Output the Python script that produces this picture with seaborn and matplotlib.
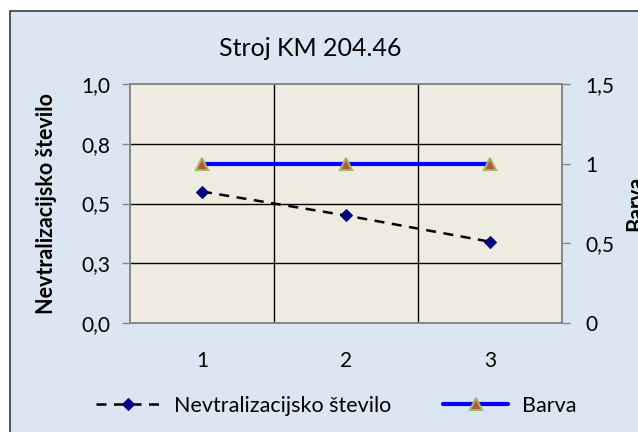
import matplotlib
matplotlib.use("Agg")
import matplotlib.pyplot as plt
import matplotlib.patches as patches
import seaborn as sns
import pandas as pd

# Data
samples = [1, 2, 3]
nevtralizacijsko = [0.55, 0.45, 0.34]
barva = [1, 1, 1]
left_ticks = [0, 0.25, 0.5, 0.75, 1.0]
left_labels = ["0,0", "0,3", "0,5", "0,8", "1,0"]
right_ticks = [0, 0.5, 1, 1.5]
right_labels = ["0", "0,5", "1", "1,5"]

df = pd.DataFrame({"Vzorec": samples, "Nevtralizacijsko število": nevtralizacijsko, "Barva": barva})

sns.set_style("white")
plt.rcParams["font.family"] = ["Lato", "DejaVu Sans"]
plt.rcParams["text.color"] = "black"
plt.rcParams["xtick.color"] = "black"
plt.rcParams["ytick.color"] = "black"
plt.rcParams["axes.labelcolor"] = "black"

W, H = 638, 432
fig = plt.figure(figsize=(W / 100, H / 100), dpi=100, facecolor="white")

# chart area background with frame (Excel style)
fig.patches.append(patches.Rectangle((10 / W, -0.05), 1.1, 1 - 11 / H + 0.05,
                                     transform=fig.transFigure, facecolor="#dce6f2",
                                     edgecolor="#3a3a3a", linewidth=1.2, zorder=-10))

ax = fig.add_axes([130 / W, 1 - 323 / H, 432 / W, 239 / H])
ax.set_facecolor("#eeece1")

# category gridlines between points
for xv in [1.5, 2.5]:
    ax.axvline(xv, color="black", lw=1.0, zorder=1)
for yv in left_ticks[1:-1]:
    ax.axhline(yv, color="black", lw=1.0, zorder=1)

sns.lineplot(data=df, x="Vzorec", y="Nevtralizacijsko število", ax=ax, color="black",
             lw=1.8, linestyle=(0, (4, 3)), marker="D", markersize=6,
             markerfacecolor="#000080", markeredgecolor="#000080", zorder=3,
             label="Nevtralizacijsko število", legend=False)

ax2 = ax.twinx()
sns.lineplot(data=df, x="Vzorec", y="Barva", ax=ax2, color="#0000ff", lw=3,
             marker="^", markersize=9, markerfacecolor="#c0504d",
             markeredgecolor="#9bbb59", markeredgewidth=1.5, zorder=3,
             label="Barva", legend=False)

ax.set_xlim(0.5, 3.5)
ax.set_ylim(0, 1.0)
ax2.set_ylim(0, 1.5)

ax.set_xticks([0.5, 1.5, 2.5, 3.5])
ax.set_xticklabels([])
ax.set_xticks(samples, minor=True)
ax.set_xticklabels([str(s) for s in samples], minor=True, fontsize=15)
ax.tick_params(axis="x", which="major", length=6, color="#868686", direction="out", width=1)
ax.tick_params(axis="x", which="minor", length=0, pad=20)

ax.set_yticks(left_ticks)
ax.set_yticklabels(left_labels, fontsize=15)
ax.tick_params(axis="y", length=6, color="#868686", direction="out", width=1, pad=8)

ax2.set_yticks(right_ticks)
ax2.set_yticklabels(right_labels, fontsize=15)
ax2.tick_params(axis="y", length=6, color="#868686", direction="out", width=1, pad=11)

for a in (ax, ax2):
    for s in a.spines.values():
        s.set_color("#868686")
        s.set_linewidth(1.2)

ax.set_xlabel("")
ax.set_ylabel("Nevtralizacijsko število", fontsize=15.5, fontweight="bold", labelpad=18)
ax2.set_ylabel("Barva", fontsize=15.5, fontweight="bold", labelpad=8)

fig.text(310 / W, 1 - 49 / H, "Stroj KM 204.46", fontsize=18, ha="center", va="center")

h1, l1 = ax.get_legend_handles_labels()
h2, l2 = ax2.get_legend_handles_labels()
fig.legend(h1 + h2, l1 + l2, loc="center", bbox_to_anchor=(336 / W, 1 - 406 / H),
           ncol=2, frameon=False, fontsize=15.5, handlelength=3, columnspacing=2.4,
           handletextpad=0.65)

fig.savefig("out.png", dpi=100, facecolor=fig.get_facecolor())
